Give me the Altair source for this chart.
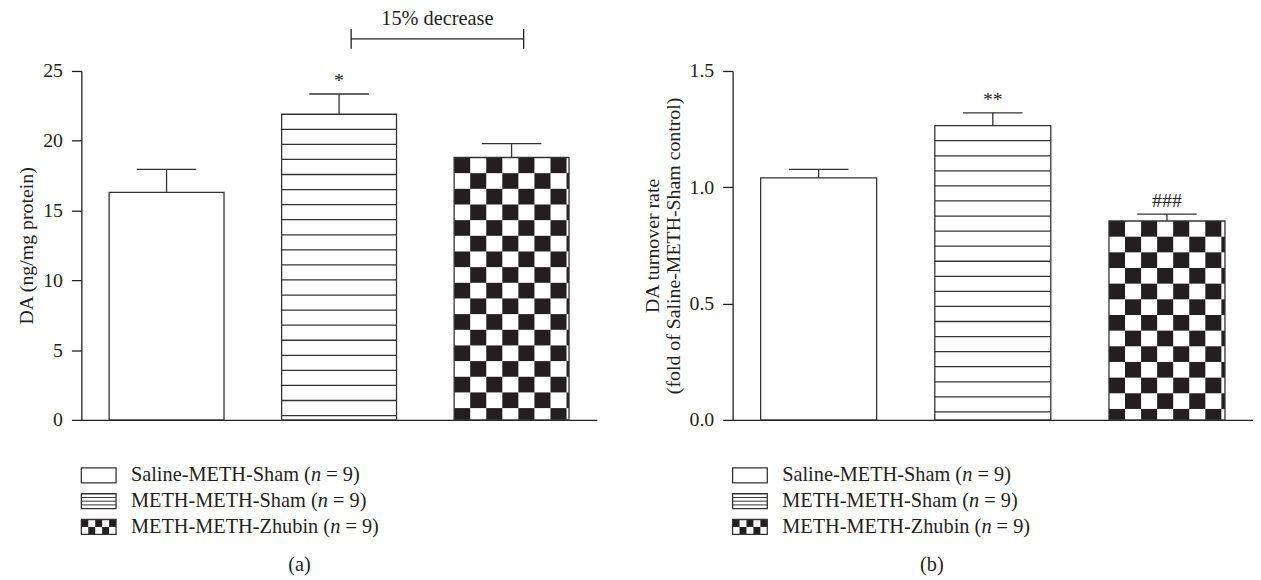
import altair as alt
import pandas as pd

# ---------------- data ----------------
groups = ["Saline-METH-Sham", "METH-METH-Sham", "METH-METH-Zhubin"]
n_per_group = [9, 9, 9]
patterns = ["plain", "stripes", "checker"]

da_mean = [16.3, 21.9, 18.8]
da_sem = [1.65, 1.45, 1.0]
da_sig = ["", "*", ""]
da_ticks = [0, 5, 10, 15, 20, 25]

turn_mean = [1.04, 1.265, 0.855]
turn_sem = [0.037, 0.055, 0.03]
turn_sig = ["", "**", "###"]
turn_ticks = [0.0, 0.5, 1.0, 1.5]

bracket_from = 1          # METH-METH-Sham
bracket_to = 2            # METH-METH-Zhubin
bracket_level = 27.3
bracket_label = "15% decrease"

# ---------------- style ----------------
FONT = "Liberation Serif"
INK = "#231f20"
EDGE = "#333333"
FS = 20
FS_LEG = 20.5
XDOM = [-0.494, 2.494]
HALF_BAR = 0.333

AFM = {'S': 556, 'a': 444, 'l': 278, 'i': 278, 'n': 500, 'e': 444, '-': 333, 'M': 889,
       'E': 611, 'T': 611, 'H': 722, 'h': 500, 'm': 778, ' ': 250, '(': 333, 'Z': 611,
       'u': 500, 'b': 500, '=': 564, '9': 500, ')': 333}


def tw(s, fs):
    return sum(AFM.get(c, 500) for c in s) / 1000 * fs


def panel(mean, sem, sig, ticks, fmt, ytitle, W, H, annotate=False):
    ymax = ticks[-1]
    ppy = H / ymax
    ppx = W / (XDOM[1] - XDOM[0])
    xscale = alt.Scale(domain=XDOM, nice=False, zero=False)
    yscale = alt.Scale(domain=[0, ymax], nice=False, zero=True)
    xaxis = alt.Axis(labels=False, ticks=False, grid=False, domain=True)
    yaxis = alt.Axis(values=ticks, format=fmt, grid=False)

    def X(f):
        return alt.X(f"{f}:Q", scale=xscale, axis=xaxis, title=None)

    def Y(f):
        return alt.Y(f"{f}:Q", scale=yscale, axis=yaxis, title=ytitle)

    rows = []
    for i, (m, s, g) in enumerate(zip(mean, sem, sig)):
        rows.append(dict(xc=i, x0=i - HALF_BAR, x1=i + HALF_BAR, base=0, top=m, err=m + s,
                         cap0=i - 30 / ppx, cap1=i + 30 / ppx, sig=g))
    bars = pd.DataFrame(rows)

    lines = []
    cells = []
    for i, p in enumerate(patterns):
        left, right, top = i - HALF_BAR, i + HALF_BAR, mean[i]
        if p == "stripes":
            sp = 15.2 / ppy
            k = 1
            while top - k * sp > 2 / ppy:
                lines.append(dict(x0=left, x1=right, y=top - k * sp))
                k += 1
        if p == "checker":
            cw, ch = 16.2 / ppx, 15.8 / ppy
            r = 0
            while top - r * ch > 0:
                c = 0
                while left + c * cw < right:
                    if (r + c) % 2 == 0:
                        cells.append(dict(x0=left + c * cw, x1=min(left + (c + 1) * cw, right),
                                          y0=max(top - (r + 1) * ch, 0), y1=top - r * ch))
                    c += 1
                r += 1
    lines = pd.DataFrame(lines)
    cells = pd.DataFrame(cells)

    layers = [
        alt.Chart(bars).mark_rect(color="white").encode(
            x=X("x0"), x2=alt.X2("x1"), y=Y("top"), y2=alt.Y2("base")),
        alt.Chart(cells).mark_rect(color=INK).encode(
            x=X("x0"), x2=alt.X2("x1"), y=Y("y0"), y2=alt.Y2("y1")),
        alt.Chart(lines).mark_rule(color=EDGE, strokeWidth=1.3).encode(
            x=X("x0"), x2=alt.X2("x1"), y=Y("y")),
        alt.Chart(bars).mark_rect(fillOpacity=0, stroke=EDGE, strokeWidth=1.3).encode(
            x=X("x0"), x2=alt.X2("x1"), y=Y("top"), y2=alt.Y2("base")),
        alt.Chart(bars).mark_rule(color=EDGE, strokeWidth=1.3).encode(
            x=X("xc"), y=Y("top"), y2=alt.Y2("err")),
        alt.Chart(bars).mark_rule(color=EDGE, strokeWidth=1.3).encode(
            x=X("cap0"), x2=alt.X2("cap1"), y=Y("err")),
        alt.Chart(bars).mark_text(baseline="alphabetic", dy=-7, fontSize=FS, color=INK).encode(
            x=X("xc"), y=Y("err"), text="sig:N"),
    ]
    if annotate:
        b0 = bracket_from + 0.07
        b1 = bracket_to + 0.07
        br = pd.DataFrame([dict(x0=b0, x1=b1, xm=(b0 + b1) / 2, y=bracket_level,
                                label=bracket_label)])
        brt = pd.DataFrame([dict(x=b0, lo=bracket_level - 10 / ppy, hi=bracket_level + 10 / ppy),
                            dict(x=b1, lo=bracket_level - 10 / ppy, hi=bracket_level + 10 / ppy)])
        layers += [
            alt.Chart(br).mark_rule(color=INK, strokeWidth=1.3).encode(
                x=X("x0"), x2=alt.X2("x1"), y=Y("y")),
            alt.Chart(brt).mark_rule(color=INK, strokeWidth=1.3).encode(
                x=X("x"), y=Y("lo"), y2=alt.Y2("hi")),
            alt.Chart(br).mark_text(baseline="alphabetic", dy=-14, fontSize=FS_LEG, color=INK).encode(
                x=X("xm"), y=Y("y"), text="label:N"),
        ]
    return alt.layer(*layers).properties(width=W, height=H)


def legend(W, caption, cap_x):
    row_y = [46, 72, 98]
    boxes, stripes, checks, texts = [], [], [], []
    for i, (g, n, p) in enumerate(zip(groups, n_per_group, patterns)):
        yc = row_y[i]
        boxes.append(dict(x0=0, x1=35, y0=yc - 7.5, y1=yc + 7.5))
        if p == "stripes":
            for d in (-3.75, 0, 3.75):
                stripes.append(dict(x0=0, x1=35, y=yc + d))
        if p == "checker":
            for r in range(2):
                for c in range(5):
                    if (r + c) % 2 == 0:
                        checks.append(dict(x0=c * 7, x1=(c + 1) * 7,
                                           y0=yc - 7.5 + r * 7.5, y1=yc + r * 7.5))
        pre = f"{g} ("
        x_pre = 50
        x_n = x_pre + tw(pre, FS_LEG)
        x_post = x_n + tw("n ", FS_LEG)
        texts.append(dict(x=x_pre, y=yc, t=pre, s="normal"))
        texts.append(dict(x=x_n, y=yc, t="n", s="italic"))
        texts.append(dict(x=x_post, y=yc, t=f"= {n})", s="normal"))
    boxes, stripes, checks = pd.DataFrame(boxes), pd.DataFrame(stripes), pd.DataFrame(checks)
    texts = pd.DataFrame(texts)
    cap = pd.DataFrame([dict(x=cap_x, y=136, t=caption)])

    def X(f):
        return alt.X(f"{f}:Q", scale=None, axis=None)

    def Y(f):
        return alt.Y(f"{f}:Q", scale=None, axis=None)

    layers = [
        alt.Chart(checks).mark_rect(color=INK).encode(x=X("x0"), x2=alt.X2("x1"), y=Y("y0"), y2=alt.Y2("y1")),
        alt.Chart(stripes).mark_rule(color=EDGE, strokeWidth=1).encode(x=X("x0"), x2=alt.X2("x1"), y=Y("y")),
        alt.Chart(boxes).mark_rect(fillOpacity=0, stroke=EDGE, strokeWidth=1.3).encode(
            x=X("x0"), x2=alt.X2("x1"), y=Y("y0"), y2=alt.Y2("y1")),
        alt.Chart(texts[texts.s == "normal"]).mark_text(align="left", baseline="middle", fontSize=FS_LEG, color=INK).encode(
            x=X("x"), y=Y("y"), text="t:N"),
        alt.Chart(texts[texts.s == "italic"]).mark_text(align="left", baseline="middle", fontSize=FS_LEG,
                                                        fontStyle="italic", color=INK).encode(
            x=X("x"), y=Y("y"), text="t:N"),
        alt.Chart(cap).mark_text(align="center", baseline="middle", fontSize=FS_LEG, color=INK).encode(
            x=X("x"), y=Y("y"), text="t:N"),
    ]
    return alt.layer(*layers).properties(width=W, height=150)


plotA = panel(da_mean, da_sem, da_sig, da_ticks, "d", "DA (ng/mg protein)", 520, 352, annotate=True)
plotB = panel(turn_mean, turn_sem, turn_sig, turn_ticks, ".1f",
              ["DA turnover rate", "(fold of Saline-METH-Sham control)"], 525, 352)

left = alt.vconcat(plotA, legend(520, "(a)", 220), spacing=0)
right = alt.vconcat(plotB, legend(525, "(b)", 201), spacing=0)

chart = alt.hconcat(left, right, spacing=46).properties(
    padding={"left": 9, "top": -2, "right": 0, "bottom": 0}
).configure(font=FONT).configure_view(strokeWidth=0).configure_axis(
    labelFont=FONT, titleFont=FONT, labelFontSize=FS, titleFontSize=FS, titleFontWeight="normal",
    domainColor=INK, tickColor=INK, labelColor=INK, titleColor=INK, tickSize=10,
    labelPadding=9, titlePadding=6, domainWidth=1.3, tickWidth=1.3, titleLineHeight=21
).configure_text(font=FONT)

chart.save("out.html", embed_options={"renderer": "svg", "actions": False})
